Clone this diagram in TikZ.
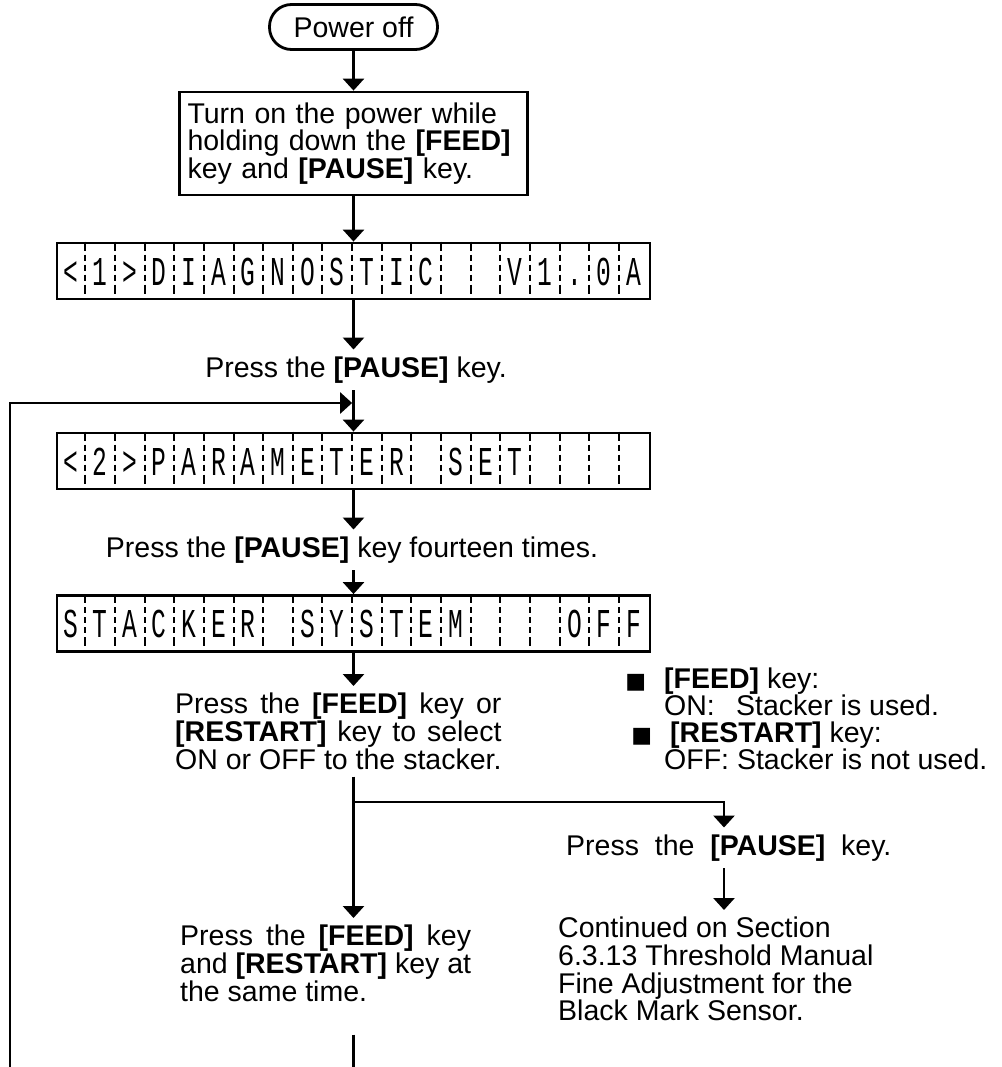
\documentclass[tikz,border=0pt]{standalone}
\usepackage{fontspec}
\setmainfont{Liberation Sans}
\newfontfamily\lcdfont{Liberation Mono}
\newfontfamily\symfont{DejaVu Sans}
\usetikzlibrary{arrows.meta,positioning,calc}

\newcommand{\bodyfont}{\fontsize{28.5}{27.7}\selectfont}
\newlength{\stackerwd}
\newlength{\restartwd}

\tikzset{
  flow/.style={line width=2.8pt},
  flowarrow/.style={flow, -{Triangle[width=21pt,length=12pt]}},
  stepbox/.style={draw, line width=2.8pt, inner xsep=8pt, inner ysep=0pt},
  steptext/.style={inner xsep=0pt, inner ysep=7pt},
  lcdbox/.style={draw, line width=2.8pt, minimum width=593pt, minimum height=56pt, inner sep=0pt},
  lcdchar/.style={font=\lcdfont\fontsize{41}{41}\selectfont, xscale=0.6, inner sep=0pt, anchor=base},
  lcdsep/.style={line width=2pt, dash pattern=on 9pt off 4pt on 6pt off 4pt on 6pt off 4pt on 6pt off 4pt on 9pt off 40pt},
}

% one display line: node name, 20 characters
\newcommand{\lcdcells}[2]{%
  \foreach \ch [count=\cellno] in {#2}
    \node[lcdchar] at ($(#1.west)+(\cellno*29.65-14.825,14)$) {\ch};
  \foreach \cellno in {1,...,19}
    \draw[lcdsep] ($(#1.north west)+(\cellno*29.65,0)$) -- ($(#1.south west)+(\cellno*29.65,0)$);
}

\begin{document}
\settowidth{\stackerwd}{\bodyfont ON or OFF to the stacker.}%
\settowidth{\restartwd}{\bodyfont and \textbf{[RESTART]} key at}%
\begin{tikzpicture}[x=1pt, y=-1pt, font=\bodyfont]
\useasboundingbox (0,0) rectangle (1001,1067);

\node[draw, line width=2.8pt, rounded corners=22pt, minimum width=168pt, minimum height=45pt, inner sep=0pt] (poweroff) at (353.5,27) {Power off};

\node[stepbox, text width=332pt, minimum height=103pt, align=left] (turnon) at (353.5,143.5)
  {Turn on the power while\\holding down the \textbf{[FEED]}\\key and \textbf{[PAUSE]} key.};

\node[lcdbox] (lcd1) at (353.5,271) {};
\lcdcells{lcd1}{<,1,>,D,I,A,G,N,O,S,T,I,C,{},{},V,1,.,0,A}

\node[steptext] (pause1) at (356,370) {Press the \textbf{[PAUSE]} key.};

\node[lcdbox] (lcd2) at (353.5,461) {};
\lcdcells{lcd2}{<,2,>,P,A,R,A,M,E,T,E,R,{},S,E,T,{},{},{},{}}

\node[steptext] (pause14) at (352,550) {Press the \textbf{[PAUSE]} key fourteen times.};

\node[lcdbox] (lcd3) at (353.5,623.5) {};
\lcdcells{lcd3}{S,T,A,C,K,E,R,{},S,Y,S,T,E,M,{},{},{},O,F,F}

\node[steptext, anchor=north west, align=left] (select) at (175,686)
  {\makebox[\stackerwd][s]{Press the \textbf{[FEED]} key or}\\
   \makebox[\stackerwd][s]{\textbf{[RESTART]} key to select}\\
   ON or OFF to the stacker.};

\node[anchor=north west, align=left, inner sep=0pt, font=\fontsize{28.5}{27}\selectfont] (notes) at (664,668)
  {\llap{{\symfont\fontsize{22}{22}\selectfont ■}\hspace{18pt}}\textbf{[FEED]} key:\\
   \makebox[72pt][l]{ON:}Stacker is used.\\
   \llap{{\symfont\fontsize{22}{22}\selectfont ■}\hspace{12pt}}\hspace*{6pt}\textbf{[RESTART]} key:\\
   OFF: Stacker is not used.};

\coordinate (branch) at (353.5,802);
\coordinate (rightturn) at (724,802);

\node[steptext, anchor=west] (pauseR) at (566,848) {Press~~the~~\textbf{[PAUSE]}~~key.};
\node[steptext, anchor=north west, align=left] (contd) at (558,910)
  {Continued on Section\\6.3.13 Threshold Manual\\Fine Adjustment for the\\Black Mark Sensor.};

\node[steptext, anchor=north west, align=left] (both) at (180,918)
  {\makebox[\restartwd][s]{Press the \textbf{[FEED]} key}\\
   and \textbf{[RESTART]} key at\\
   the same time.};

\coordinate (loopfoot) at (10,1067);
\coordinate (loopcorner) at (10,403);
\coordinate (exitfoot) at (353.5,1067);

\draw[flowarrow] (poweroff) -- (turnon);
\draw[flowarrow] (turnon) -- (lcd1);
\draw[flowarrow] (lcd1.south) -- (lcd1.south |- pause1.north);
\draw[flowarrow] (lcd2.north |- pause1.south) -- (lcd2.north);
\draw[flowarrow, shorten >=1.4pt] (loopfoot) -- (loopcorner) -- (loopcorner -| lcd2.north);
\draw[flowarrow] (lcd2.south) -- (lcd2.south |- pause14.north);
\draw[flowarrow] (lcd3.north |- pause14.south) -- (lcd3.north);
\draw[flowarrow] (lcd3.south) -- (lcd3.south |- select.north);
\draw[flowarrow] (lcd3.south |- select.south) -- (lcd3.south |- both.north);
\draw[flowarrow] (branch) -- (rightturn) -- (rightturn |- pauseR.north);
\draw[flowarrow] (rightturn |- pauseR.south) -- (rightturn |- contd.north);
\draw[flow, shorten <=26pt] (lcd3.south |- both.south) -- (exitfoot);
\end{tikzpicture}
\end{document}
